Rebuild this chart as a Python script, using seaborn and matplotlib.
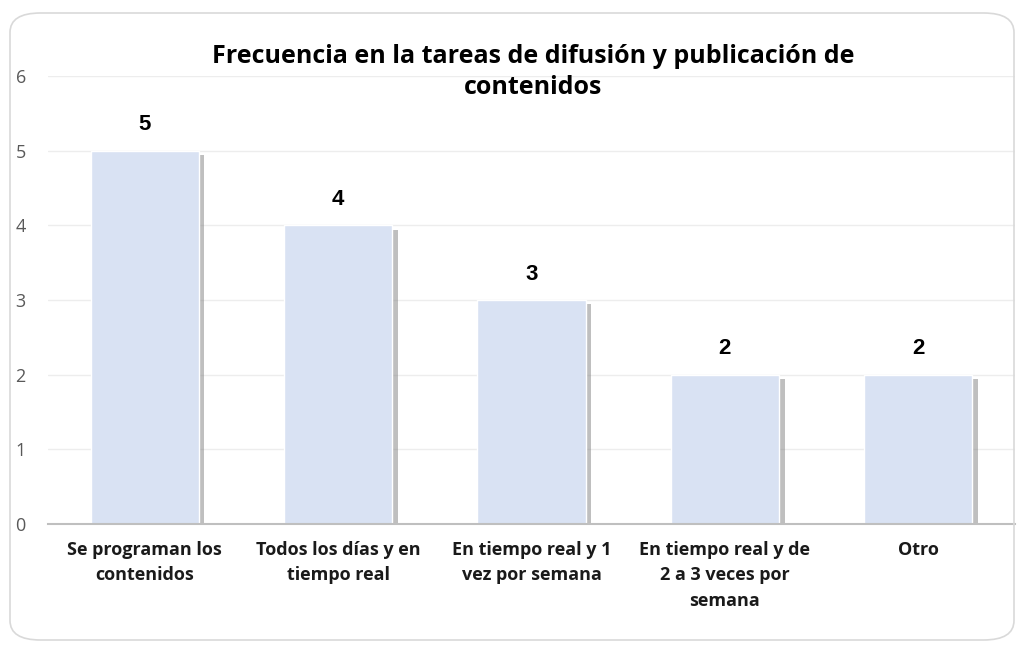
import matplotlib
matplotlib.use("Agg")
import matplotlib.pyplot as plt
import matplotlib.patheffects as pe
from matplotlib.patches import FancyBboxPatch
import seaborn as sns
import pandas as pd

categories = [
    "Se programan los\ncontenidos",
    "Todos los días y en\ntiempo real",
    "En tiempo real y 1\nvez por semana",
    "En tiempo real y de\n2 a 3 veces por\nsemana",
    "Otro",
]
values = [5, 4, 3, 2, 2]
y_ticks = [0, 1, 2, 3, 4, 5, 6]
title = "Frecuencia en la tareas de difusión y publicación de\ncontenidos"

df = pd.DataFrame({"categoria": categories, "valor": values})

sns.set_style("white")
plt.rcParams["font.family"] = ["Open Sans", "DejaVu Sans"]

fig = plt.figure(figsize=(10.18, 6.48), dpi=100)
ax = fig.add_axes([48 / 1018, 1 - 524 / 648, 967 / 1018, 448 / 648])

# rounded frame around the chart
frame = FancyBboxPatch((10 / 1018, 8 / 648), 1004 / 1018, 627 / 648,
                       boxstyle="round,pad=0,rounding_size=0.03",
                       transform=fig.transFigure, facecolor="none",
                       edgecolor="#D9D9D9", linewidth=1.2, zorder=0)
fig.patches.append(frame)

sns.barplot(data=df, x="categoria", y="valor", color="#D9E2F3", width=0.56,
            saturation=1, ax=ax, zorder=3)

for bar in ax.patches:
    bar.set_path_effects([pe.SimplePatchShadow(offset=(4, -3), shadow_rgbFace="#808080",
                                               alpha=0.5), pe.Normal()])

for i, v in enumerate(values):
    ax.annotate(str(v), (i, v), xytext=(0, 11), textcoords="offset points",
                ha="center", va="bottom", fontsize=16, fontweight="bold",
                family=["Liberation Sans", "DejaVu Sans"], color="black")

ax.set_ylim(0, 6)
ax.set_yticks(y_ticks)
ax.set_xlim(-0.5, len(categories) - 0.5)
ax.yaxis.grid(True, color="#EDEDED", linewidth=1)
ax.set_axisbelow(True)
for s in ["top", "right", "left"]:
    ax.spines[s].set_visible(False)
ax.spines["bottom"].set_color("#BFBFBF")
ax.spines["bottom"].set_linewidth(1.5)
ax.spines["bottom"].set_zorder(4)

ax.tick_params(axis="y", length=0, pad=16, labelsize=13, labelcolor="#595959")
ax.tick_params(axis="x", length=0, pad=12)
ax.set_xticks(range(len(categories)))
ax.set_xticklabels(categories, fontsize=13, fontweight="bold",
                   color="#1a1a1a", linespacing=1.55, va="top")
ax.set_xlabel("")
ax.set_ylabel("")

fig.text(533 / 1018, 1 - 72 / 648, title, ha="center", va="center", fontsize=18,
         fontweight="bold", color="black", linespacing=1.35)

fig.savefig("out.png", dpi=100)
